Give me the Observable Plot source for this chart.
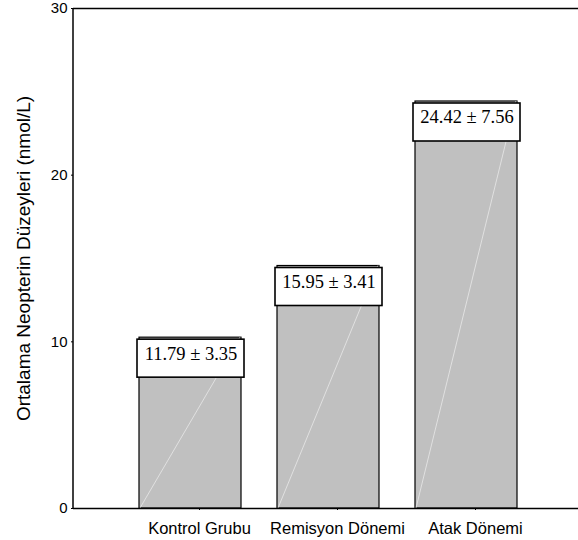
<!DOCTYPE html>
<html>
<head>
<meta charset="utf-8">
<script src="https://cdn.jsdelivr.net/npm/d3@7"></script>
<script src="https://cdn.jsdelivr.net/npm/@observablehq/plot@0.6"></script>
<style>
  body { margin: 0; background: #fff; }
  #chart svg { display: block; }
</style>
</head>
<body>
<div id="chart"></div>
<script>
// ---- data ----
const groups = ["Kontrol Grubu", "Remisyon Dönemi", "Atak Dönemi"];
const barHeights = [10.25, 14.55, 24.42];   // drawn bar tops (nmol/L)
const means = [11.79, 15.95, 24.42];         // printed means
const sds = [3.35, 3.41, 7.56];              // printed SDs
const yTicks = [0, 10, 20, 30];
const yLabel = "Ortalama Neopterin Düzeyleri (nmol/L)";

const data = groups.map((g, i) => ({
  group: g,
  bar: barHeights[i],
  label: `${means[i].toFixed(2)} ± ${sds[i].toFixed(2)}`
}));

// faint diagonal artefact inside each bar (bottom-left to top-right)
const diagonals = (index, scales) => {
  const x = scales.x, y = scales.y;
  const bw = typeof x.bandwidth === "function" ? x.bandwidth() : x.bandwidth;
  const g = d3.create("svg:g");
  data.forEach(d => {
    g.append("line")
      .attr("x1", x(d.group) + 1).attr("y1", y(0))
      .attr("x2", x(d.group) + bw - 1).attr("y2", y(d.bar))
      .attr("stroke", "#e8e8e8").attr("stroke-width", 0.8);
  });
  return g.node();
};

// left axis line (frame edge)
const leftLine = (index, scales, values, dims) => {
  const g = d3.create("svg:g");
  g.append("line")
    .attr("x1", dims.marginLeft).attr("x2", dims.marginLeft)
    .attr("y1", dims.marginTop).attr("y2", dims.height - dims.marginBottom)
    .attr("stroke", "#000").attr("stroke-width", 1.5);
  return g.node();
};

const chart = Plot.plot({
  width: 578,
  height: 540,
  marginLeft: 73,
  marginRight: 0,
  marginTop: 8,
  marginBottom: 32,
  style: { fontFamily: "'Liberation Sans', Arial, sans-serif", color: "#000", background: "#fff" },
  x: { domain: groups, paddingInner: 0.26, paddingOuter: 0.45, align: 0.52, label: null },
  y: { domain: [0, 30], label: null },
  marks: [
    Plot.barY(data, { x: "group", y: "bar", fill: "#c0c0c0", stroke: "#000", strokeWidth: 1.2 }),
    diagonals,
    Plot.ruleY([0, 30], { stroke: "#000", strokeWidth: 1.5 }),
    leftLine,
    Plot.axisX({ tickSize: 2, tickPadding: 12, fontSize: 16.5, dx: 9, label: null, stroke: "#000" }),
    Plot.axisY({ ticks: yTicks, tickSize: 2, tickPadding: 4, fontSize: 15, label: null, stroke: "#000" }),
    // value boxes
    Plot.barY(data, {
      x: "group", y1: "bar", y2: "bar",
      insetTop: 2, insetBottom: -40, insetLeft: -2, insetRight: -3,
      fill: "#fff", stroke: "#000", strokeWidth: 1.6
    }),
    Plot.text(data, {
      x: "group", y: "bar", text: "label", dy: 16, dx: 0.5,
      fontFamily: "'Liberation Serif', 'Times New Roman', serif", fontSize: 18.5, fill: "#000"
    }),
    Plot.text([yLabel], {
      text: d => d, frameAnchor: "left", textAnchor: "middle", rotate: -90, dx: -50,
      fontSize: 19, fill: "#000"
    })
  ]
});

document.getElementById("chart").append(chart);
</script>
</body>
</html>
